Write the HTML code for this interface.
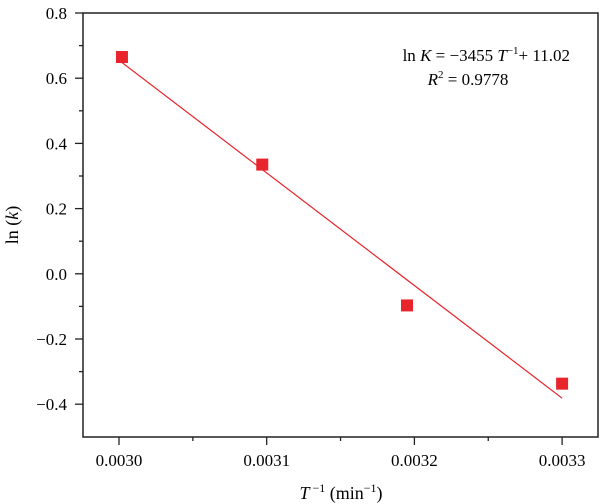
<!DOCTYPE html>
<html><head><meta charset="utf-8"><style>
body{margin:0;background:#fff;}
svg{display:block;font-family:"Liberation Serif",serif;}
</style></head><body>
<svg width="600" height="504" viewBox="0 0 600 504">
<g id="axes"></g>
<g id="marks"></g>
<text x="570" y="61" font-size="17" text-anchor="end">ln <tspan font-style="italic">K</tspan> = −3455 <tspan font-style="italic">T</tspan><tspan font-size="11" dy="-7">−1</tspan><tspan dy="7">+ 11.02</tspan></text>
<text x="468" y="85" font-size="17" text-anchor="middle"><tspan font-style="italic">R</tspan><tspan font-size="11" dy="-7">2</tspan><tspan dy="7"> = 0.9778</tspan></text>
<text x="341" y="499" font-size="18" text-anchor="middle"><tspan font-style="italic">T</tspan><tspan font-size="12" dy="-7"> −1</tspan><tspan dy="7"> (min</tspan><tspan font-size="12" dy="-7">−1</tspan><tspan dy="7">)</tspan></text>
<text transform="translate(18,225) rotate(-90)" font-size="18" text-anchor="middle">ln (<tspan font-style="italic">k</tspan>)</text>
</svg>
<script>
const xs=[0.003002,0.003097,0.003195,0.0033];
const ys=[0.665,0.335,-0.097,-0.337];
const xTicks=[0.0030,0.0031,0.0032,0.0033];
const xTickLabels=["0.0030","0.0031","0.0032","0.0033"];
const yTicks=[0.8,0.6,0.4,0.2,0.0,-0.2,-0.4];
const yTickLabels=["0.8","0.6","0.4","0.2","0.0","−0.2","−0.4"];
const slope=-3455, intercept=11.02;
const L=83,R=598,T=13,B=437;
const X=v=>119+(v-0.0030)/0.0001*147.7;
const Y=v=>13+(0.8-v)/0.2*65.2;
const NS="http://www.w3.org/2000/svg";
function mk(tag,attrs,parent){const e=document.createElementNS(NS,tag);for(const k in attrs)e.setAttribute(k,attrs[k]);parent.appendChild(e);return e;}
const ax=document.getElementById('axes'), mg=document.getElementById('marks');
let f=mk('rect',{x:L,y:T,width:R-L,height:B-T,fill:'none',stroke:'#222','stroke-width':1.5},ax);


xTicks.forEach((v,i)=>{
 let t=mk('line',{x1:X(v),x2:X(v),y1:B,y2:B+8,stroke:'#222','stroke-width':1.3},ax);
 
 
 if(i<xTicks.length-1){let m=mk('line',{x1:X(v+0.00005),x2:X(v+0.00005),y1:B,y2:B+4,stroke:'#222','stroke-width':1.3},ax);
 
 }
 let l=mk('text',{x:X(v),y:B+29,'font-size':17,'text-anchor':'middle'},ax);l.textContent=xTickLabels[i];
 
 
});
yTicks.forEach((v,i)=>{
 let t=mk('line',{x1:L-8,x2:L,y1:Y(v),y2:Y(v),stroke:'#222','stroke-width':1.3},ax);
 
 
 if(i<yTicks.length-1){let m=mk('line',{x1:L-4,x2:L,y1:Y(v-0.1),y2:Y(v-0.1),stroke:'#222','stroke-width':1.3},ax);
 
 }
 let l=mk('text',{x:L-16,y:Y(v)+6,'font-size':17,'text-anchor':'end'},ax);l.textContent=yTickLabels[i];
 
 
});
const x0=xs[0],x1=xs[xs.length-1];
let fl=mk('line',{x1:X(x0),y1:Y(slope*x0+intercept),x2:X(x1),y2:Y(slope*x1+intercept),stroke:'#e8242c','stroke-width':1.2},mg);


xs.forEach((v,i)=>{
 let p=mk('rect',{x:X(v)-6,y:Y(ys[i])-6,width:12,height:12,fill:'#e8242c'},mg);
 
 
});
</script>
</body></html>
